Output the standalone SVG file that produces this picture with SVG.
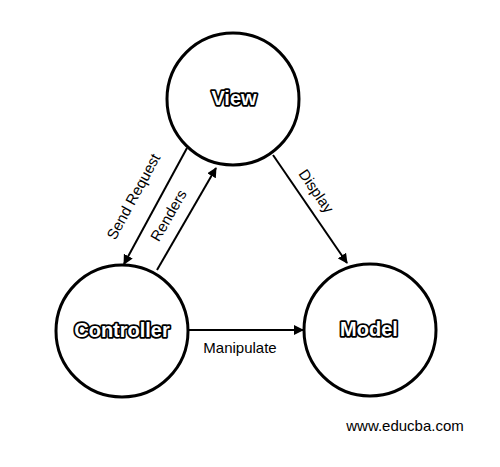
<svg xmlns="http://www.w3.org/2000/svg" width="500" height="467" viewBox="0 0 500 467">
<defs>
<marker id="ah" viewBox="0 0 10 10" refX="9" refY="5" markerWidth="10" markerHeight="10" markerUnits="userSpaceOnUse" orient="auto">
<path d="M0,0 L10,5 L0,10 z" fill="#000"/>
</marker>
</defs>
<style>
.node{fill:#fff;stroke:#000;stroke-width:3}
.nl{font-family:"Liberation Sans",Arial,sans-serif;font-weight:bold;font-size:20px;fill:#fff;stroke:#000;stroke-width:3.5;paint-order:stroke;stroke-linejoin:round;text-anchor:middle}
.edge{stroke:#000;stroke-width:2;fill:none;marker-end:url(#ah)}
.el{font-family:"Liberation Sans",Arial,sans-serif;font-size:15px;fill:#000;text-anchor:middle}
</style>
<rect width="500" height="467" fill="#fff"/>
<g id="view"><circle class="node" cx="233" cy="99" r="66"/><text class="nl" x="234" y="105">View</text></g>
<g id="controller"><circle class="node" cx="122" cy="331" r="66"/><text class="nl" x="122" y="337">Controller</text></g>
<g id="model"><circle class="node" cx="370" cy="330" r="66"/><text class="nl" x="369" y="336">Model</text></g>
<g id="connectors">
<line class="edge" x1="187" y1="148" x2="124" y2="264"/>
<line class="edge" x1="157" y1="270" x2="216" y2="168"/>
<line class="edge" x1="273" y1="155" x2="347" y2="263"/>
<line class="edge" x1="188" y1="330" x2="303" y2="330"/>
</g>
<g id="labels">
<text class="el" transform="translate(138,199) rotate(-61.5)">Send Request</text>
<text class="el" transform="translate(173,218) rotate(-60)">Renders</text>
<text class="el" transform="translate(312,194) rotate(55.6)">Display</text>
<text class="el" x="240" y="353">Manipulate</text>
<text class="el" x="405" y="431">www.educba.com</text>
</g>
</svg>
